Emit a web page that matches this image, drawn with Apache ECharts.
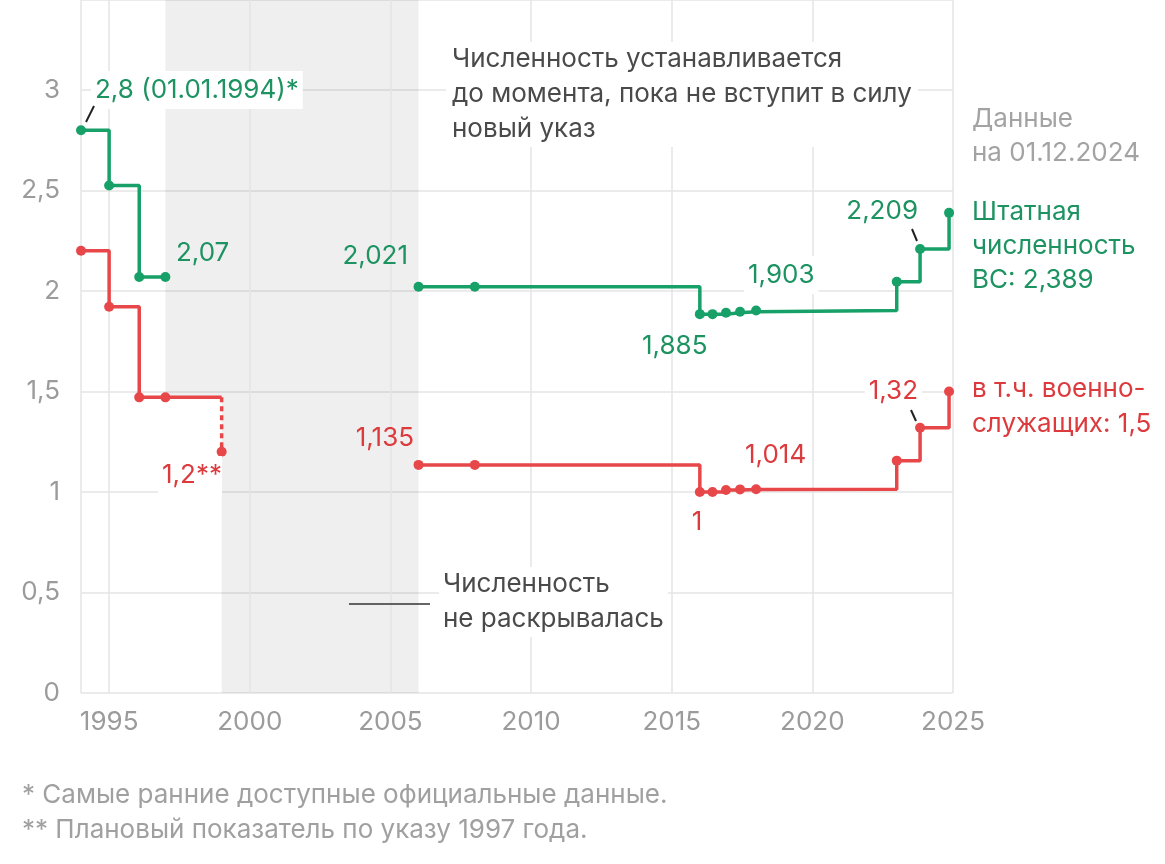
<!DOCTYPE html>
<html>
<head>
<meta charset="utf-8">
<script src="https://cdn.jsdelivr.net/npm/echarts@6/dist/echarts.min.js"></script>
<style>
  html, body { margin: 0; padding: 0; background: #fff; }
  #chart { width: 1165px; height: 864px; }
</style>
</head>
<body>
<div id="chart"></div>
<script>
// green: staff size of the armed forces, mln
var greenYearsA = [1994, 1995, 1996.07, 1997];
var greenValsA = [2.8, 2.525, 2.07, 2.07];
var greenYearsB = [2006, 2008, 2016, 2016.45, 2016.93, 2017.43, 2018, 2023, 2023.83, 2024.86];
var greenValsB = [2.021, 2.021, 1.885, 1.885, 1.892, 1.897, 1.903, 2.046, 2.209, 2.389];

// red: of them military personnel, mln
var redYearsA = [1994, 1995, 1996.07, 1997, 1999];
var redValsA = [2.2, 1.922, 1.471, 1.471, 1.471];
var redPlanYears = [1999, 1999];
var redPlanVals = [1.471, 1.2];
var redYearsB = [2006, 2008, 2016, 2016.45, 2016.93, 2017.43, 2018, 2023, 2023.83, 2024.86];
var redValsB = [1.135, 1.135, 1.0, 1.0, 1.01, 1.013, 1.014, 1.156, 1.32, 1.5];

// period when the staff size was not published
var hiddenFrom = 1997, hiddenRedEnd = 1999, hiddenTo = 2006;

var gridYears = [1994, 1995, 2000, 2005, 2010, 2015, 2020, 2025];

var GREEN = '#17a068', GREEN_TXT = '#1c9361';
var RED = '#e8474a', RED_TXT = '#dc3a3d';
var FONT = 'Inter, "Noto Sans", sans-serif';

function pairs(xs, ys, noDot) {
    var out = [];
    for (var i = 0; i < xs.length; i++) {
        var item = { value: [xs[i], ys[i]] };
        if (noDot && noDot.indexOf(i) >= 0) item.symbol = 'none';
        out.push(item);
    }
    return out;
}

function stepSeries(data, color, extra) {
    var s = {
        type: 'line',
        step: 'end',
        data: data,
        symbol: 'circle',
        symbolSize: 10,
        showSymbol: true,
        color: color,
        lineStyle: { width: 3.5, color: color },
        itemStyle: { color: color },
        z: 5
    };
    for (var k in extra) s[k] = extra[k];
    return s;
}

function txt(x, y, text, color, opts) {
    opts = opts || {};
    var style = {
        x: x, y: y, text: text,
        font: (opts.size || 26) + 'px ' + FONT,
        fill: color,
        textAlign: opts.align || 'left',
        textVerticalAlign: opts.valign || 'middle',
        lineHeight: opts.lh || 34
    };
    if (opts.bg) {
        style.backgroundColor = '#fff';
        style.padding = opts.pad || [2, 4];
    }
    return { type: 'text', z: 100, style: style };
}

function seg(x1, y1, x2, y2, color, w) {
    return { type: 'line', z: 100, shape: { x1: x1, y1: y1, x2: x2, y2: y2 },
             style: { stroke: color, lineWidth: w || 2 } };
}

var option = {
    animation: false,
    backgroundColor: '#fff',
    grid: { left: 81, right: 212, top: 0, bottom: 171 },
    xAxis: {
        type: 'value',
        min: 1994,
        max: 2025,
        interval: 1,
        axisLine: { show: false },
        axisTick: { show: false },
        splitLine: { show: false },
        axisLabel: {
            margin: 16,
            fontSize: 26,
            fontFamily: FONT,
            color: '#9b9b9b',
            formatter: function (v) { return (v % 5 === 0) ? String(v) : ''; }
        }
    },
    yAxis: {
        type: 'value',
        min: 0,
        max: 3.448,
        interval: 0.5,
        axisLine: { show: false },
        axisTick: { show: false },
        splitLine: { lineStyle: { color: '#e4e4e4', width: 1.5 } },
        axisLabel: {
            margin: 21,
            fontSize: 26,
            fontFamily: FONT,
            color: '#9b9b9b',
            formatter: function (v) {
                if (v > 3.01) return '';
                return String(Math.round(v * 10) / 10).replace('.', ',');
            }
        }
    },
    series: [
        {
            // background: grey period + vertical grid lines
            type: 'line',
            data: [],
            silent: true,
            markArea: {
                silent: true,
                itemStyle: { color: 'rgba(0,0,0,0.062)' },
                data: [
                    [{ xAxis: hiddenFrom, yAxis: redValsA[3] }, { xAxis: hiddenTo, yAxis: 3.448 }],
                    [{ xAxis: hiddenRedEnd, yAxis: 0 }, { xAxis: hiddenTo, yAxis: redValsA[3] }]
                ]
            },
            markLine: {
                silent: true,
                symbol: ['none', 'none'],
                label: { show: false },
                lineStyle: { color: '#e4e4e4', width: 1.5, type: 'solid' },
                data: gridYears.map(function (y) { return { xAxis: y }; })
            }
        },
        stepSeries(pairs(greenYearsA, greenValsA), GREEN),
        stepSeries(pairs(greenYearsB, greenValsB), GREEN),
        stepSeries(pairs(redYearsA, redValsA, [4]), RED),
        stepSeries(pairs(redPlanYears, redPlanVals, [0]), RED, {
            step: false,
            lineStyle: { width: 3.5, color: RED, type: [5, 4] }
        }),
        stepSeries(pairs(redYearsB, redValsB), RED)
    ],
    graphic: [
        // value labels
        txt(91, 90, '2,8 (01.01.1994)*', GREEN_TXT, { bg: true }),
        seg(86, 122, 94, 106, '#222'),
        txt(176, 253, '2,07', GREEN_TXT),
        txt(222, 475, '1,2**', RED_TXT, { align: 'right', bg: true, pad: [2, 0, 2, 4] }),
        txt(408, 256, '2,021', GREEN_TXT, { align: 'right' }),
        txt(414, 438, '1,135', RED_TXT, { align: 'right' }),
        txt(642, 346, '1,885', GREEN_TXT),
        txt(744, 275, '1,903', GREEN_TXT, { bg: true }),
        txt(745, 455, '1,014', RED_TXT),
        txt(697, 522, '1', RED_TXT, { align: 'center' }),
        txt(918, 211, '2,209', GREEN_TXT, { align: 'right' }),
        seg(912, 229, 917, 241, '#222'),
        txt(922, 391, '1,32', RED_TXT, { align: 'right', bg: true }),
        seg(911, 410, 916, 421, '#222'),
        // right side labels
        txt(972, 102, 'Данные\nна 01.12.2024', '#a3a3a3', { valign: 'top', lh: 34 }),
        txt(972, 195, 'Штатная\nчисленность\nВС: 2,389', GREEN_TXT, { valign: 'top', lh: 34 }),
        txt(972, 372, 'в т.ч. военно-\nслужащих: 1,5', RED_TXT, { valign: 'top', lh: 35 }),
        // notes
        txt(446, 42, 'Численность устанавливается\nдо момента, пока не вступит в силу\nновый указ', '#4a4a4a',
            { valign: 'top', lh: 35, bg: true, pad: [0, 6] }),
        txt(439, 567, 'Численность\nне раскрывалась', '#4a4a4a',
            { valign: 'top', lh: 35, bg: true, pad: [0, 4] }),
        seg(349, 604, 430, 604, '#333', 1.5),
        // footnotes
        txt(22, 795, '* Самые ранние доступные официальные данные.', '#a0a0a0'),
        txt(22, 830, '** Плановый показатель по указу 1997 года.', '#a0a0a0')
    ]
};

var chart = echarts.init(document.getElementById('chart'));
chart.setOption(option);
</script>
</body>
</html>
